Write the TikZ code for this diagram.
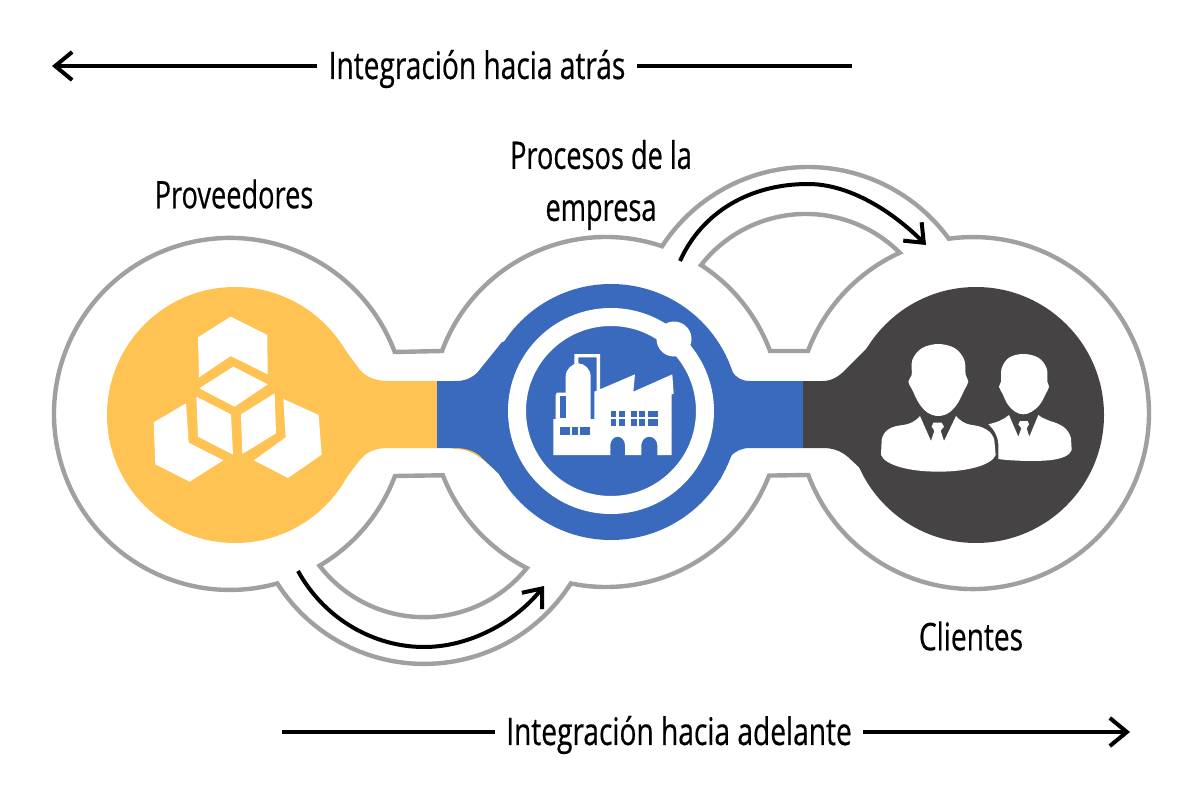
\documentclass[tikz,border=0pt]{standalone}
\usepackage{fontspec}
\setmainfont{Open Sans}
\newfontfamily\axisfont[FakeStretch=0.74,FakeBold=0.5]{Open Sans}
\newfontfamily\labelfont[FakeStretch=0.715,FakeBold=0.5]{Open Sans}
\usetikzlibrary{arrows.meta}
\definecolor{cyellow}{HTML}{FFC353}
\definecolor{cblue}{HTML}{3A6ABD}
\definecolor{cdark}{HTML}{454344}
\definecolor{cgray}{HTML}{A0A0A0}
\tikzset{
  outline/.style={draw=cgray,line width=4.4pt,line join=miter,fill=none},
  flow/.style={draw=black,line width=4pt,-{Straight Barb[length=17pt,width=28pt,line width=4pt]}},
  plainline/.style={draw=black,line width=4pt},
  curved/.style={draw=black,line width=4pt,-{Straight Barb[length=16pt,width=26pt,line width=4pt]}},
  label/.style={font=\labelfont\fontsize{38}{52}\selectfont,align=center,inner sep=0pt,text=black},
  axislabel/.style={font=\axisfont\fontsize{38}{52}\selectfont,inner xsep=11pt,inner ysep=0pt,text=black},
  icon/.style={fill=white,draw=none}
}
\begin{document}
\begin{tikzpicture}[x=1pt,y=-1pt]
\useasboundingbox (0,0) rectangle (1200,800);
\fill[white] (0,0) rectangle (1200,800);

% outer outline
\path[outline]
  ({606+175*cos(200.4)},{412+175*sin(200.4)}) arc[start angle=200.4,end angle=288.7,radius=175]
  arc[start angle=213.0,end angle=324,radius=174]
  arc[start angle=262.1,end angle=519.4,radius=176]
  -- ({606+175*cos(21.3)},{412+175*sin(21.3)}) arc[start angle=21.3,end angle=101.6,radius=175]
  arc[start angle=32.5,end angle=147.5,radius=174]
  arc[start angle=74.4,end angle=339.4,radius=176]
  -- cycle;
% upper sector
\path[outline]
  ({606+175*cos(-20.4)},{412+175*sin(-20.4)}) arc[start angle=-20.4,end angle=-57.1,radius=175]
  arc[start angle=218,end angle=314.9,radius=133]
  arc[start angle=245.5,end angle=200.6,radius=176]
  -- cycle;
% lower sector
\path[outline]
  ({606+175*cos(158.8)},{412+175*sin(158.8)}) arc[start angle=158.8,end angle=116.9,radius=175]
  arc[start angle=38.9,end angle=142.4,radius=132]
  arc[start angle=59.5,end angle=20.6,radius=176]
  -- cycle;

% yellow lobe
\fill[cyellow] (235,415) circle[radius=128];
\fill[cyellow] (330,340) -- (343,347) -- (360,370) .. controls (367,378) and (377,381) .. (388,381)
  -- (437,381) -- (437,448) -- (388,448) .. controls (377,448) and (367,451) .. (360,460)
  -- (342,483) -- (330,490) -- cycle;
% sliver of yellow showing under the blue
\fill[cyellow] (437,445) -- (455,449) .. controls (470,449) and (480,456) .. (499,474) -- (505,470) -- (470,440) -- cycle;
% blue lobe
\fill[cblue] (611,412) circle[radius=128];
\fill[cblue] (510,340) -- (502,342) -- (477,373) .. controls (470,379) and (464,381) .. (455,381)
  -- (437,381) -- (437,448) -- (455,448) .. controls (464,448) and (472,450) .. (479,455)
  -- (498,473) -- (510,485) -- (720,480) -- (730,457) .. controls (735,451) and (742,448) .. (750,448)
  -- (803,448) -- (803,381) -- (750,381) .. controls (742,381) and (736,378) .. (732,371) -- (720,350) -- cycle;
% dark lobe
\fill[cdark] (976,415) circle[radius=128];
\fill[cdark] (880,340) -- (868,347) -- (847,368) .. controls (840,376) and (832,381) .. (823,381)
  -- (803,381) -- (803,448) -- (823,448) .. controls (833,448) and (841,451) .. (848,457)
  -- (862,470) -- (880,490) -- cycle;

% ring
\draw[white,line width=18pt] (611,411) circle[radius=94];
\fill[white] (674,339) circle[radius=17.5];

% boxes
\begin{scope}[shift={(100,280)},x=.33333pt,y=-.33333pt]
\fill[icon] (392,110) -- (502,165) -- (503,283) -- (392,228) -- (297,292) -- (294,172) -- cycle;
\fill[icon] (400,260) -- (503,313) -- (404,380) -- (298,325) -- cycle;
\fill[icon] (289,350) -- (393,403) -- (399,524) -- (294,470) -- cycle;
\fill[icon] (423,403) -- (524,340) -- (528,460) -- (427,522) -- cycle;
\fill[icon] (258,370) -- (266,488) -- (370,541) -- (269,605) -- (166,553) -- (161,427) -- cycle;
\fill[icon] (550,357) -- (656,405) -- (665,524) -- (564,594) -- (462,541) -- (557,472) -- cycle;
\end{scope}

% factory
\begin{scope}[shift={(545,345)},x=.33333pt,y=-.33333pt]
\fill[icon] (25,222) -- (148,222) -- (148,140) -- (165,133) -- (270,88) -- (265,140) -- (382,88) -- (386,147) -- (380,147)
  -- (380,330) -- (337,330) -- (337,300) .. controls (337,287) and (326,275) .. (313,275) .. controls (300,275) and (289,287) .. (289,300)
  -- (289,330) -- (240,330) -- (240,300) .. controls (240,287) and (230,275) .. (218,275) .. controls (206,275) and (196,287) .. (196,300)
  -- (196,330) -- (25,330) -- cycle;
\fill[icon] (62,225) -- (62,95) .. controls (62,72) and (82,55) .. (100,55) .. controls (118,55) and (137,72) .. (137,95) -- (137,225) -- cycle;
\fill[icon] (32,225) -- (32,150) -- (36,143) -- (65,143) -- (65,225) -- cycle;
\fill[icon] (88,60) -- (88,27) -- (165,27) -- (165,135) -- (155,140) -- (155,37) -- (100,37) -- (100,60) -- cycle;
\fill[cblue] (45,153) rectangle (62,220);
\fill[cblue] (44,246) rectangle (75,270);
\fill[cblue] (82,246) rectangle (98,270);
\fill[cblue] (106,246) rectangle (136,270);
\fill[cblue] (197,197) rectangle (214,215);
\fill[cblue] (221,197) rectangle (240,215);
\fill[cblue] (197,222) rectangle (214,244);
\fill[cblue] (221,222) rectangle (240,244);
\fill[cblue] (258,197) rectangle (277,215);
\fill[cblue] (283,197) rectangle (301,215);
\fill[cblue] (308,197) rectangle (338,215);
\fill[cblue] (258,222) rectangle (277,244);
\fill[cblue] (283,222) rectangle (301,244);
\fill[cblue] (308,222) rectangle (338,244);
\end{scope}

% person 1
\begin{scope}[shift={(875,340)},x=.33333pt,y=-.33333pt]
\fill[icon] plot[smooth cycle,tension=.6] coordinates {(190,12) (240,25) (268,60) (272,105) (280,125) (268,150) (248,190) (222,218) (190,228) (158,218) (132,190) (112,150) (100,125) (110,105) (112,60) (140,25)};
\fill[icon] (135,228) .. controls (120,245) and (105,252) .. (85,255) .. controls (50,258) and (25,270) .. (20,300)
  -- (18,345) .. controls (30,375) and (100,395) .. (190,395) .. controls (280,395) and (350,375) .. (362,345)
  -- (358,300) .. controls (350,270) and (320,258) .. (290,255) .. controls (270,252) and (255,242) .. (243,228)
  -- (207,303) -- (197,272) -- (207,260) -- (200,248) -- (175,248) -- (170,260) -- (178,272) -- (168,303) -- cycle;
\end{scope}

% person 2
\begin{scope}[shift={(985,345)},x=.33333pt,y=-.33333pt]
\fill[icon] plot[smooth cycle,tension=.6] coordinates {(115,27) (160,38) (185,70) (187,110) (192,125) (183,145) (165,178) (140,200) (115,208) (90,200) (68,178) (52,145) (42,125) (48,110) (50,70) (72,38)};
\fill[icon] (72,210) .. controls (55,225) and (35,232) .. (10,238) .. controls (30,255) and (40,280) .. (40,300)
  -- (40,342) .. controls (80,348) and (160,350) .. (200,345) .. controls (235,340) and (255,330) .. (260,315)
  -- (258,280) .. controls (250,250) and (230,238) .. (195,228) .. controls (180,222) and (170,218) .. (160,210)
  -- (133,275) -- (125,250) -- (132,238) -- (128,228) -- (105,228) -- (100,238) -- (109,250) -- (100,275) -- cycle;
\end{scope}

% curved arrows
\coordinate (topfrom) at (680,261);
\coordinate (toptop) at (808,184);
\coordinate (topto) at (926,245);
\draw[curved] (topfrom) .. controls (702,212) and (750,184) .. (toptop) .. controls (850,184) and (893,212) .. (topto);
\coordinate (botfrom) at (298,571);
\coordinate (botlow) at (424,647);
\coordinate (botto) at (544,586);
\draw[curved] (botfrom) .. controls (325,620) and (375,647) .. (botlow) .. controls (470,647) and (515,622) .. (botto);

% labels
\node[label] (prov) at (234,194) {Proveedores};
\node[label] (proc) at (601,185) {Procesos de la\\empresa};
\node[label,font=\axisfont\fontsize{38}{52}\selectfont] (cli) at (971,636) {Clientes};
\node[axislabel] (atras) at (477,69) {Integración hacia atrás};
\node[axislabel] (adel) at (679,735) {Integración hacia adelante};
\coordinate (atrasR) at (852,66);
\coordinate (atrasL) at (52,66);
\coordinate (adelL) at (282,732);
\coordinate (adelR) at (1130,732);
\draw[plainline] (atrasR) -- (atras.east |- atrasR);
\draw[flow] (atras.west |- atrasL) -- (atrasL);
\draw[plainline] (adelL) -- (adel.west |- adelL);
\draw[flow] (adel.east |- adelR) -- (adelR);
\end{tikzpicture}
\end{document}
